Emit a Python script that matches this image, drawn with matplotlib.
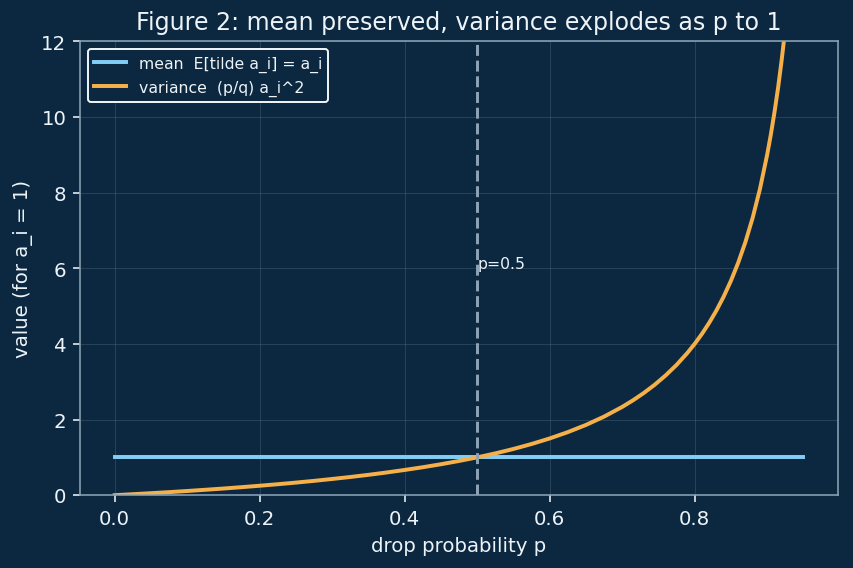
import matplotlib.pyplot as plt
import numpy as np

# values
p = [0.0, 0.025, 0.05, 0.075, 0.1, 0.125, 0.15, 0.175, 0.2, 0.225, 0.25, 0.275, 0.3,
     0.325, 0.35, 0.375, 0.4, 0.425, 0.45, 0.475, 0.5, 0.525, 0.55, 0.575, 0.6, 0.625,
     0.65, 0.675, 0.7, 0.715, 0.73, 0.745, 0.76, 0.775, 0.79, 0.8, 0.81, 0.82, 0.83,
     0.84, 0.85, 0.86, 0.87, 0.88, 0.89, 0.9, 0.905, 0.91, 0.915, 0.92, 0.925, 0.93,
     0.94, 0.95]
variance = [0.0, 0.026, 0.053, 0.081, 0.111, 0.143, 0.176, 0.212, 0.25, 0.29, 0.333,
            0.379, 0.429, 0.481, 0.538, 0.6, 0.667, 0.739, 0.818, 0.905, 1.0, 1.105,
            1.222, 1.353, 1.5, 1.667, 1.857, 2.077, 2.333, 2.509, 2.704, 2.922, 3.167,
            3.444, 3.762, 4.0, 4.263, 4.556, 4.882, 5.25, 5.667, 6.143, 6.692, 7.333,
            8.091, 9.0, 9.526, 10.11, 10.76, 11.5, 12.33, 13.29, 15.67, 19.0]
mean = [1.0] * len(p)

bg = "#0b2840"
fg = "#eef3f7"
spine = "#8da3b5"

fig, ax = plt.subplots(figsize=(6, 4), dpi=142.2)
fig.patch.set_facecolor(bg)
ax.set_facecolor(bg)

ax.plot(p, mean, color="#82cdf5", lw=2, label="mean  E[tilde a_i] = a_i")
ax.plot(p, variance, color="#f5b04a", lw=2, label="variance  (p/q) a_i^2")
ax.axvline(0.5, color=spine, ls="--", lw=1.5)
ax.text(0.5, 6, "p=0.5", color=fg, fontsize=8)

ax.set_ylim(0, 12)
ax.set_title("Figure 2: mean preserved, variance explodes as p to 1", color=fg, fontsize=12)
ax.set_xlabel("drop probability p", color=fg, fontsize=10)
ax.set_ylabel("value (for a_i = 1)", color=fg, fontsize=10)
ax.tick_params(colors=fg, labelsize=10)
for s in ax.spines.values():
    s.set_color(spine)
ax.grid(True, color="#5a7488", alpha=0.35, lw=0.5)

leg = ax.legend(loc="upper left", fontsize=8, facecolor=bg, edgecolor=fg, framealpha=1)
for t in leg.get_texts():
    t.set_color(fg)

fig.subplots_adjust(left=0.094, right=0.982, top=0.926, bottom=0.128)
fig.savefig("out.png", facecolor=bg)
